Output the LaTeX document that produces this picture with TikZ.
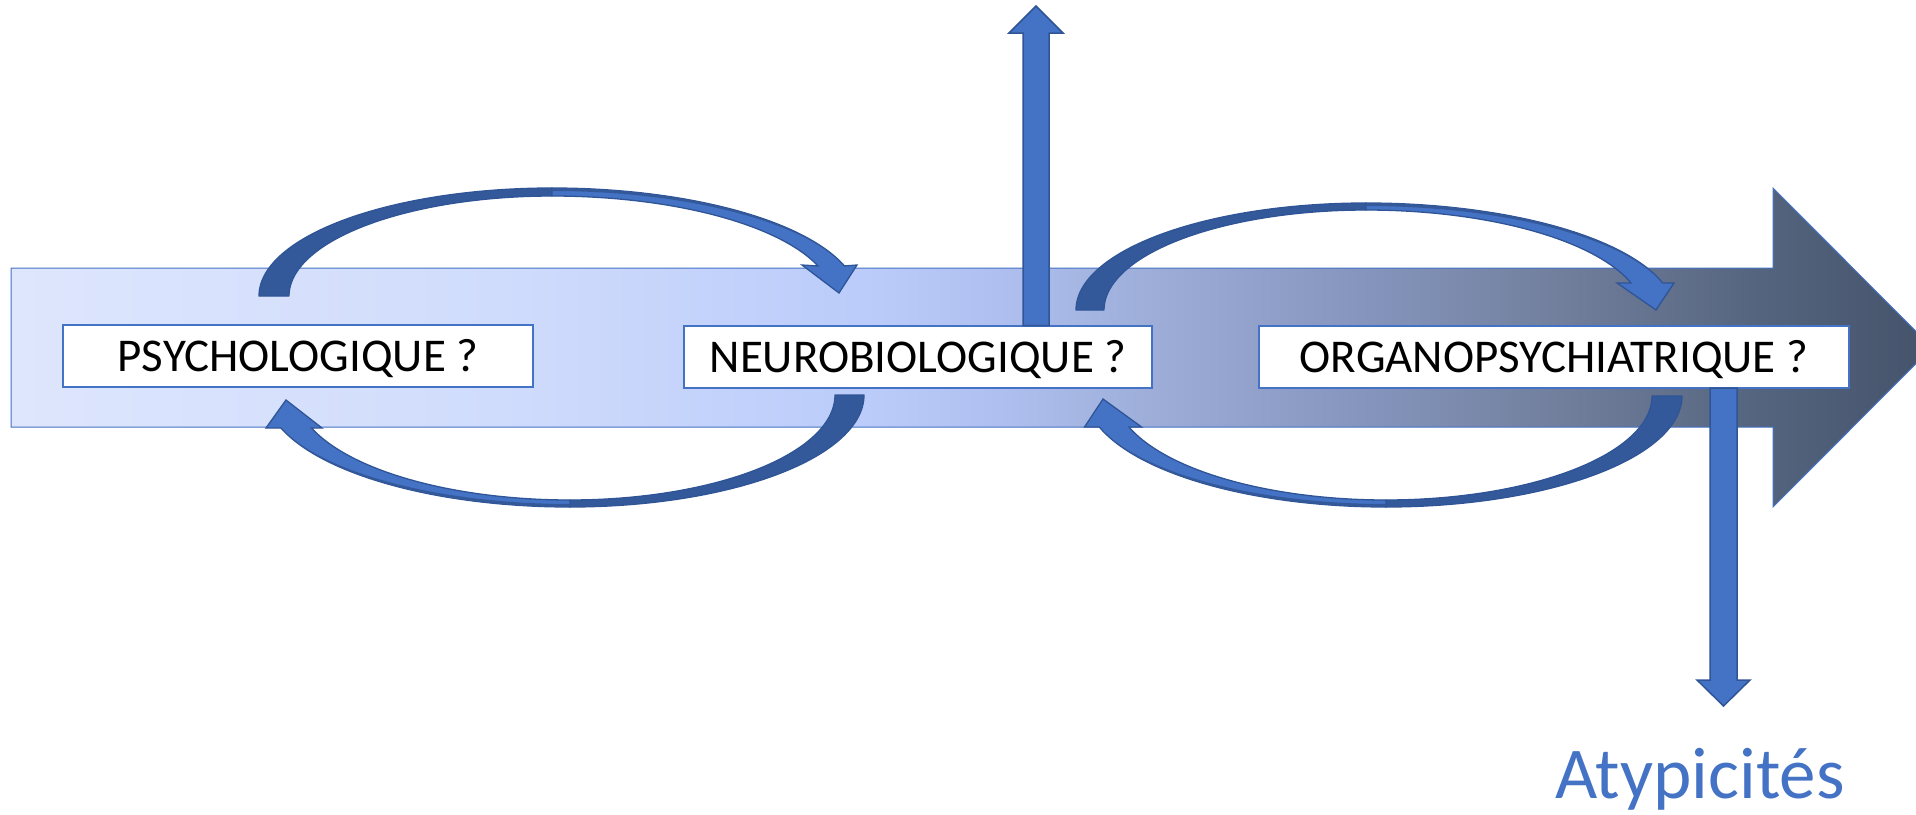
\documentclass[tikz,border=0pt]{standalone}
\usepackage{fontspec}
\setmainfont{Carlito}
\definecolor{accent}{HTML}{4472C4}
\definecolor{accentdark}{HTML}{2F5597}
\definecolor{ribbondark}{HTML}{34599A}
\definecolor{s0}{HTML}{DEE6FD}
\definecolor{s1}{HTML}{D0DCFC}
\definecolor{s2}{HTML}{BACBFA}
\definecolor{s3}{HTML}{AFC0F0}
\definecolor{s4}{HTML}{9AAAD4}
\definecolor{s5}{HTML}{8796BF}
\definecolor{s6}{HTML}{72809E}
\definecolor{s7}{HTML}{56657F}
\definecolor{s8}{HTML}{44536A}
\pgfdeclarehorizontalshading{bigshade}{100bp}{color(0bp)=(s0); color(25bp)=(s0); color(37.7bp)=(s1); color(47.6bp)=(s2); color(50.7bp)=(s3); color(55.4bp)=(s4); color(59.9bp)=(s5); color(65.1bp)=(s6); color(70.3bp)=(s7); color(75bp)=(s8); color(100bp)=(s8)}
\begin{document}
\begin{tikzpicture}[x=1pt,y=-1pt,
  labelbox/.style={draw=accent, line width=2pt, fill=white, inner sep=0pt, outer sep=0pt,
    minimum height=62pt, text height=31pt, text depth=0pt,
    font=\fontsize{47pt}{56pt}\selectfont, text=black},
  fatarrow/.style={fill=accent, draw=accentdark, line width=1.5pt, line join=miter},
  ribbonback/.style={fill=ribbondark, draw=accentdark, line width=1.3pt, line join=round},
  ribbonfront/.style={fill=accent, draw=accentdark, line width=1.3pt, line join=miter},
  ribbonstrip/.style={fill=ribbondark},
  bigarrow/.style={shading=bigshade, draw=accent, line width=1pt}]
\useasboundingbox (0,0) rectangle (1916,814);
\clip (0,0) rectangle (1916,814);

% big gradient arrow
\shadedraw[bigarrow] (11,268) -- (1773,268) -- (1773,188) -- (1932,347.5) -- (1773,507) -- (1773,427) -- (11,427) -- cycle;

% boxes
\node[labelbox, minimum width=470pt] (psy) at (298,356) {PSYCHOLOGIQUE ?};
\node[labelbox, minimum width=468pt] (neuro) at (918,356.5) {NEUROBIOLOGIQUE ?};
\node[labelbox, minimum width=590pt] (organo) at (1554,357) {ORGANOPSYCHIATRIQUE ?};

% up arrow from neuro
\coordinate (upx) at (1036,0);
\coordinate (upfoot) at (upx |- neuro.north);
\draw[fatarrow] ([xshift=-13pt]upfoot) -- (1023,33) -- (1009,33) -- (1036,6) -- (1063,33) -- (1049,33) -- ([xshift=13pt]upfoot) -- cycle;

% down arrow from organo
\coordinate (dnx) at (1723.5,0);
\coordinate (dnfoot) at (dnx |- organo.south);
\draw[fatarrow] ([xshift=-13.5pt]dnfoot) -- (1710,680) -- (1697,680) -- (1723.5,706) -- (1750,680) -- (1737,680) -- ([xshift=13.5pt]dnfoot) -- cycle;

% curved arrow A : psy -> neuro (top)
\filldraw[ribbonback] plot[domain=180:270, samples=60] ({552+293*cos(\x)},{296+108*sin(\x)})
  -- plot[domain=270:180, samples=60] ({552+263*cos(\x)},{296+100*sin(\x)}) -- cycle;
\filldraw[ribbonfront] plot[domain=270:342.3, samples=60] ({552+307*cos(\x)},{300+112*sin(\x)})
  -- (857,265) -- (839,293) -- (802,265)
  -- plot[domain=340.9:270, samples=60] ({552+281.5*cos(\x)},{300+104*sin(\x)}) -- cycle;
\fill[ribbonstrip] plot[domain=270:342.3, samples=60] ({552+307*cos(\x)},{300+112*sin(\x)})
  -- plot[domain=341.8:270, samples=60] ({552+308.4*cos(\x)},{300+109*sin(\x)}) -- cycle;

% curved arrow B : neuro -> psy (bottom)
\filldraw[ribbonback] plot[domain=0:90, samples=60] ({570+294*cos(\x)},{395+112*sin(\x)})
  -- plot[domain=90:0, samples=60] ({570+265*cos(\x)},{395+105*sin(\x)}) -- cycle;
\filldraw[ribbonfront] plot[domain=90:161.4, samples=60] ({570+305*cos(\x)},{391+116*sin(\x)})
  -- (266,428) -- (286,400) -- (322,428)
  -- plot[domain=160.16:90, samples=60] ({570+274.8*cos(\x)},{391+109*sin(\x)}) -- cycle;
\fill[ribbonstrip] plot[domain=90:161.4, samples=60] ({570+305*cos(\x)},{391+116*sin(\x)})
  -- plot[domain=160.9:90, samples=60] ({570+305.8*cos(\x)},{391+113*sin(\x)}) -- cycle;

% curved arrow C : neuro -> organo (top)
\filldraw[ribbonback] plot[domain=180:270, samples=60] ({1366+290*cos(\x)},{310+107*sin(\x)})
  -- plot[domain=270:180, samples=60] ({1366+262*cos(\x)},{310+100*sin(\x)}) -- cycle;
\filldraw[ribbonfront] plot[domain=270:343.8, samples=60] ({1366+309*cos(\x)},{314+111*sin(\x)})
  -- (1674,283) -- (1656,310) -- (1617,283)
  -- plot[domain=342.66:270, samples=60] ({1366+277.6*cos(\x)},{314+104*sin(\x)}) -- cycle;
\fill[ribbonstrip] plot[domain=270:343.8, samples=60] ({1366+309*cos(\x)},{314+111*sin(\x)})
  -- plot[domain=343.3:270, samples=60] ({1366+309.7*cos(\x)},{314+108*sin(\x)}) -- cycle;

% curved arrow D : organo -> neuro (bottom)
\filldraw[ribbonback] plot[domain=0:90, samples=60] ({1386+296*cos(\x)},{396+111*sin(\x)})
  -- plot[domain=90:0, samples=60] ({1386+266*cos(\x)},{396+104*sin(\x)}) -- cycle;
\filldraw[ribbonfront] plot[domain=90:162.3, samples=60] ({1386+301*cos(\x)},{392+115*sin(\x)})
  -- (1084.5,427) -- (1103,399) -- (1141.6,427)
  -- plot[domain=161.1:90, samples=60] ({1386+271.7*cos(\x)},{392+108*sin(\x)}) -- cycle;
\fill[ribbonstrip] plot[domain=90:162.3, samples=60] ({1386+301*cos(\x)},{392+115*sin(\x)})
  -- plot[domain=161.8:90, samples=60] ({1386+302.1*cos(\x)},{392+112*sin(\x)}) -- cycle;

% label
\node[font=\fontsize{73pt}{88pt}\selectfont, text=accent, anchor=base, inner sep=0pt] (atyp) at (1700,798) {Atypicités};
\end{tikzpicture}
\end{document}
